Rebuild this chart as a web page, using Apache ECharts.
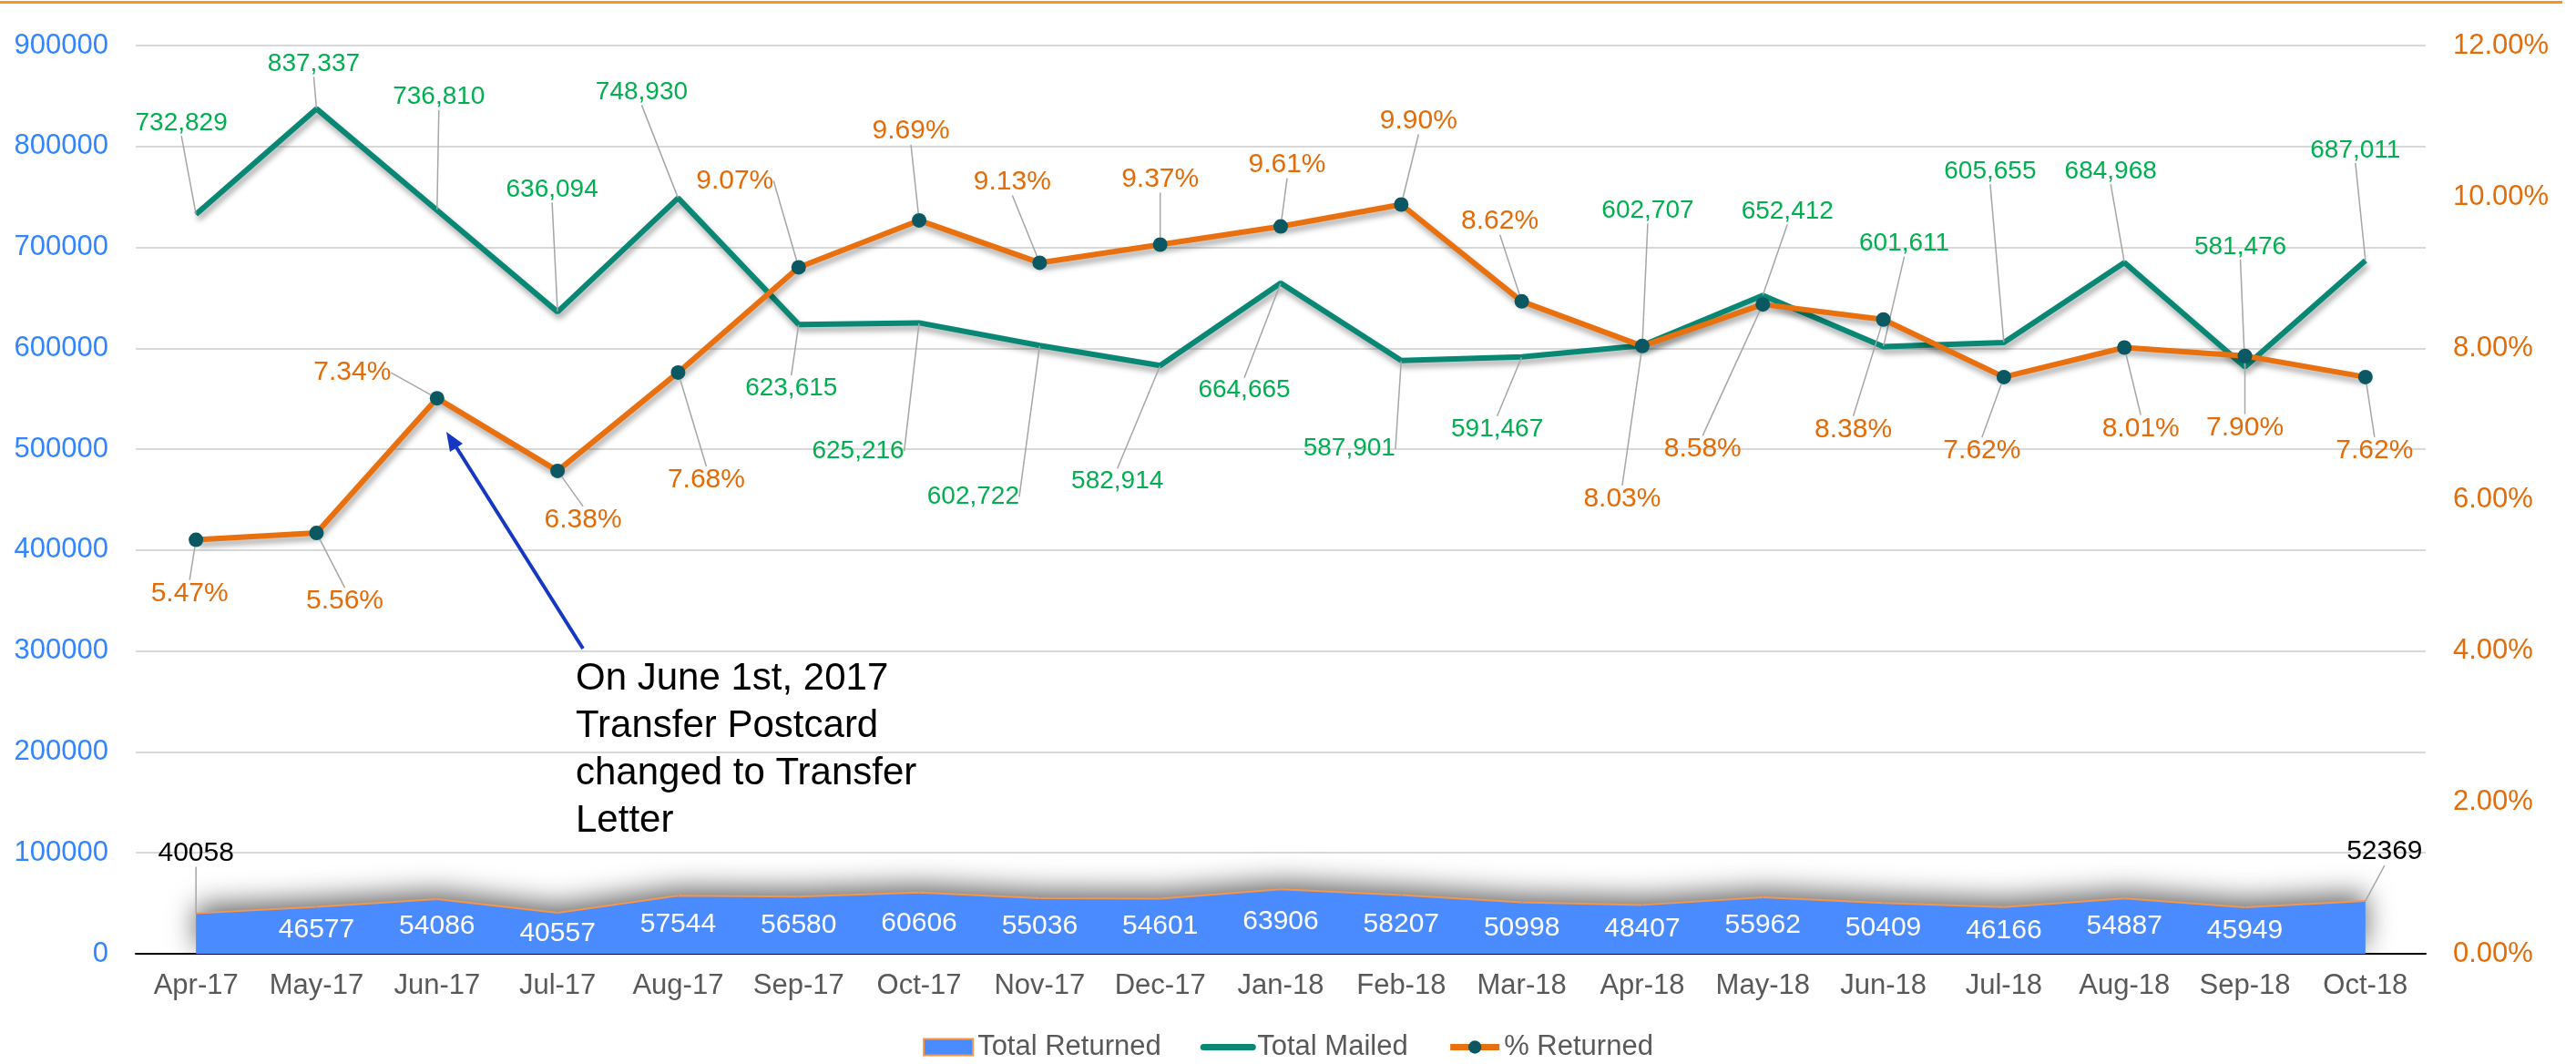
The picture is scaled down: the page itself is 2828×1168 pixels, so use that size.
<!DOCTYPE html>
<html>
<head>
<meta charset="utf-8">
<script src="https://cdn.jsdelivr.net/npm/echarts@6/dist/echarts.min.js"></script>
<style>
  html, body { margin: 0; padding: 0; background: #fff; }
  #chart { width: 2828px; height: 1168px; }
</style>
</head>
<body>
<div id="chart"></div>
<script>
// chart values
var months = ["Apr-17", "May-17", "Jun-17", "Jul-17", "Aug-17", "Sep-17", "Oct-17", "Nov-17", "Dec-17", "Jan-18",
  "Feb-18", "Mar-18", "Apr-18", "May-18", "Jun-18", "Jul-18", "Aug-18", "Sep-18", "Oct-18"];
var totalReturned = [40058, 46577, 54086, 40557, 57544, 56580, 60606, 55036, 54601, 63906,
  58207, 50998, 48407, 55962, 50409, 46166, 54887, 45949, 52369];
var totalMailed = [732829, 837337, 736810, 636094, 748930, 623615, 625216, 602722, 582914, 664665,
  587901, 591467, 602707, 652412, 601611, 605655, 684968, 581476, 687011];
var pctReturned = [5.47, 5.56, 7.34, 6.38, 7.68, 9.07, 9.69, 9.13, 9.37, 9.61,
  9.90, 8.62, 8.03, 8.58, 8.38, 7.62, 8.01, 7.90, 7.62];

// where each data label sits relative to its point (px)
var mailedLabelOffsets = [[-16, -100], [-3, -49], [2, -124], [-6, -134], [-40, -116], [-8, 70], [-67, 141],
  [-73, 166], [-47, 127], [-40, 118], [-57, 97], [-27, 79], [6, -148], [27, -92], [23, -113],
  [-15, -188], [-15, -100], [-5, -132], [-11, -121]];
var pctLabelOffsets = [[-7, 59], [31, 75], [-93, -28], [28, 54], [31, 118], [-70, -95], [-9, -98],
  [-30, -89], [0, -72], [7, -68], [19, -92], [-24, -88], [-22, 168], [-66, 159], [-33, 121],
  [-24, 81], [18, 89], [0, 79], [10, 81]];
var returnedEndOffsets = [[0, -66], [21, -54]];

var FONT = "'Liberation Sans', Arial, sans-serif";
var leader = { show: true, lineStyle: { color: "#A6A6A6", width: 1.5 } };

var returnedData = totalReturned.map(function (v, i) {
  if (i === 0 || i === totalReturned.length - 1) {
    return { value: v, label: { color: "#000" }, labelLine: leader };
  }
  return v;
});

var chart = echarts.init(document.getElementById("chart"));

var option = {
  animation: false,
  textStyle: { fontFamily: FONT },
  grid: { left: 149, right: 165, top: 50, bottom: 121 },
  legend: {
    top: 1129,
    left: "center",
    itemGap: 43,
    itemWidth: 54,
    itemHeight: 18,
    textStyle: { fontSize: 31, color: "#595959", fontFamily: FONT },
    data: [
      { name: "Total Returned", icon: "rect", itemStyle: { color: "#4A8CFF", borderColor: "#F79646", borderWidth: 2 } },
      { name: "Total Mailed", itemStyle: { opacity: 0 }, lineStyle: { width: 7, cap: "round" } },
      { name: "% Returned", lineStyle: { width: 7 } }
    ]
  },
  xAxis: {
    type: "category",
    data: months,
    axisTick: { show: false },
    axisLine: { lineStyle: { color: "#000", width: 2 } },
    axisLabel: { interval: 0, fontSize: 31, color: "#595959", margin: 20, fontFamily: FONT }
  },
  yAxis: [
    {
      type: "value",
      min: 0,
      max: 900000,
      interval: 100000,
      axisLine: { show: false },
      axisTick: { show: false },
      axisLabel: {
        fontSize: 31, color: "#3385FF", margin: 30, fontFamily: FONT,
        formatter: function (v) { return String(v); }
      },
      splitLine: { lineStyle: { color: "#D9D9D9", width: 2 } }
    },
    {
      type: "value",
      min: 0,
      max: 12,
      interval: 2,
      axisLine: { show: false },
      axisTick: { show: false },
      splitLine: { show: false },
      axisLabel: {
        fontSize: 31, color: "#E36C09", margin: 30, fontFamily: FONT,
        formatter: function (v) { return v.toFixed(2) + "%"; }
      }
    }
  ],
  series: [
    {
      name: "Total Returned",
      type: "line",
      yAxisIndex: 0,
      data: returnedData,
      symbol: "circle",
      symbolSize: 1,
      itemStyle: { color: "#4A8CFF" },
      lineStyle: { color: "#F79646", width: 2 },
      areaStyle: {
        color: "#4A8CFF", opacity: 1,
        shadowColor: "rgba(0,0,0,0.6)", shadowBlur: 30, shadowOffsetY: -8
      },
      label: { show: true, position: "inside", fontSize: 30, color: "#fff", fontFamily: FONT },
      labelLayout: function (p) {
        var last = totalReturned.length - 1;
        if (p.dataIndex === 0) return { dx: returnedEndOffsets[0][0], dy: returnedEndOffsets[0][1] };
        if (p.dataIndex === last) return { dx: returnedEndOffsets[1][0], dy: returnedEndOffsets[1][1] };
        var base = chart.convertToPixel({ yAxisIndex: 0 }, 0);
        var cy = p.rect.y + p.rect.height / 2;
        return { dy: (base - cy) / 2 };
      },
      z: 1
    },
    {
      name: "Total Mailed",
      type: "line",
      yAxisIndex: 0,
      data: totalMailed,
      symbol: "circle",
      symbolSize: 1,
      itemStyle: { color: "#078774" },
      lineStyle: {
        color: "#078774", width: 6,
        shadowColor: "rgba(0,0,0,0.35)", shadowBlur: 6, shadowOffsetX: 2, shadowOffsetY: 5
      },
      label: {
        show: true, position: "inside", fontSize: 28, color: "#00B050", fontFamily: FONT,
        formatter: function (p) { return p.value.toLocaleString("en-US"); }
      },
      labelLine: leader,
      labelLayout: function (p) {
        var o = mailedLabelOffsets[p.dataIndex];
        return { dx: o[0], dy: o[1] };
      },
      z: 3
    },
    {
      name: "% Returned",
      type: "line",
      yAxisIndex: 1,
      data: pctReturned,
      symbol: "circle",
      symbolSize: 16,
      itemStyle: { color: "#0B5863", borderWidth: 0 },
      lineStyle: {
        color: "#E8700E", width: 6,
        shadowColor: "rgba(0,0,0,0.35)", shadowBlur: 6, shadowOffsetX: 2, shadowOffsetY: 5
      },
      label: {
        show: true, position: "inside", fontSize: 30, color: "#E36C09", fontFamily: FONT,
        formatter: function (p) { return p.value.toFixed(2) + "%"; }
      },
      labelLine: leader,
      labelLayout: function (p) {
        var o = pctLabelOffsets[p.dataIndex];
        return { dx: o[0], dy: o[1] };
      },
      z: 4
    }
  ],
  graphic: [
    { type: "rect", left: 0, top: 1, shape: { width: 2813, height: 3 }, style: { fill: "#F7941D" }, silent: true },
    // annotation arrow pointing at Jun-17
    { type: "line", shape: { x1: 640, y1: 712, x2: 501, y2: 491 }, style: { stroke: "#1537C4", lineWidth: 4 }, z: 10 },
    { type: "polygon", shape: { points: [[490, 474], [508, 487], [494, 496]] }, style: { fill: "#1537C4" }, z: 10 },
    {
      type: "text", left: 632, top: 719, z: 10,
      style: {
        text: "On June 1st, 2017\nTransfer Postcard\nchanged to Transfer\nLetter",
        font: "42px " + FONT, fill: "#000", lineHeight: 52
      }
    }
  ]
};

chart.setOption(option);
</script>
</body>
</html>
